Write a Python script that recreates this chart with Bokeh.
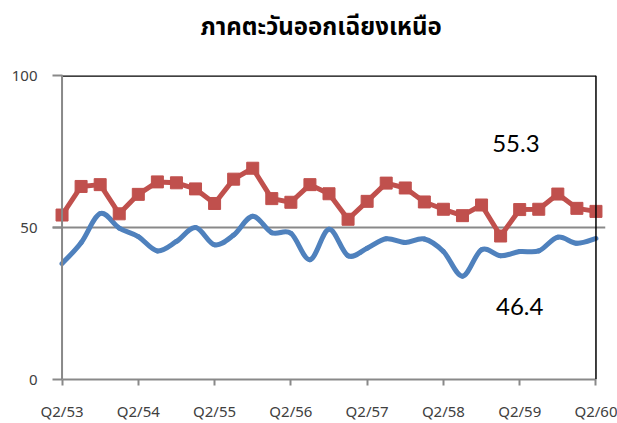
from bokeh.plotting import figure
from bokeh.models import FixedTicker, Range1d, Span, Title
from bokeh.core.properties import value
from bokeh.embed import file_html
from bokeh.resources import INLINE

title = "ภาคตะวันออกเฉียงเหนือ"
quarters = ["Q2/53", "Q3/53", "Q4/53", "Q1/54", "Q2/54", "Q3/54", "Q4/54", "Q1/55",
            "Q2/55", "Q3/55", "Q4/55", "Q1/56", "Q2/56", "Q3/56", "Q4/56", "Q1/57",
            "Q2/57", "Q3/57", "Q4/57", "Q1/58", "Q2/58", "Q3/58", "Q4/58", "Q1/59",
            "Q2/59", "Q3/59", "Q4/59", "Q1/60", "Q2/60"]
red_values = [54.1, 63.5, 64.1, 54.5, 60.9, 65.0, 64.7, 62.7, 57.9, 65.9, 69.5, 59.5, 58.3,
              64.1, 61.1, 52.7, 58.6, 64.6, 63.0, 58.4, 56.0, 53.9, 57.4, 47.2, 55.9, 56.0,
              61.0, 56.3, 55.3]
blue_values = [38.1, 45.0, 54.6, 49.8, 47.0, 42.3, 45.4, 50.0, 44.3, 47.5, 53.7, 48.3, 48.1,
               39.4, 49.4, 40.7, 43.2, 46.3, 45.1, 46.2, 42.1, 34.0, 42.7, 40.7, 42.1, 42.3,
               46.8, 44.8, 46.4]
y_ticks = [0, 50, 100]

RED = "#C0504D"
BLUE = "#4F81BD"
AXIS_GRAY = "#898989"

n = len(quarters)
xs = list(range(n))
x_last = n - 1

p = figure(width=617, height=423, x_range=Range1d(-0.5, x_last + 0.5),
           y_range=Range1d(0, 100), output_backend="svg", toolbar_location=None,
           min_border_left=52, min_border_right=12, min_border_top=74, min_border_bottom=42)

# spacer panel between the title and the plot area
p.add_layout(Title(text=" ", text_font_size="2px", standoff=15), "above")

p.title.text = title
p.title.align = "left"
p.title.vertical_align = "top"
p.title.text_font = "'Noto Sans Thai', 'Noto Sans', sans-serif"
p.title.text_font_size = "24px"
p.title.text_font_style = "bold"
p.title.text_color = "black"
p.title.offset = 148
p.title.standoff = 18

p.outline_line_color = None
p.background_fill_color = "white"
p.border_fill_color = "white"

# grid: only at 50
p.xgrid.visible = False
p.ygrid.ticker = FixedTicker(ticks=[50])
p.ygrid.grid_line_color = AXIS_GRAY
p.ygrid.grid_line_width = 2

# y axis (line drawn at x=0 by a span)
p.yaxis.ticker = FixedTicker(ticks=y_ticks)
p.yaxis.axis_line_color = None
p.yaxis.major_tick_line_color = AXIS_GRAY
p.yaxis.major_tick_line_width = 2
p.yaxis.major_tick_out = 0
p.yaxis.major_tick_in = 10
p.yaxis.minor_tick_line_color = None
p.yaxis.major_label_standoff = 15
p.yaxis.major_label_text_font = "Noto Sans"
p.yaxis.major_label_text_font_size = "15px"
p.yaxis.major_label_text_color = "#404040"
p.add_layout(Span(location=0, dimension="height", line_color=AXIS_GRAY, line_width=2))

# x axis
p.xaxis.ticker = FixedTicker(ticks=list(range(0, n, 4)))
p.xaxis.major_label_overrides = {i: quarters[i] for i in range(0, n, 4)}
p.xaxis.bounds = (0, x_last)
p.xaxis.axis_line_color = AXIS_GRAY
p.xaxis.axis_line_width = 2
p.xaxis.major_tick_line_color = AXIS_GRAY
p.xaxis.major_tick_line_width = 2
p.xaxis.major_tick_out = 6
p.xaxis.major_tick_in = 0
p.xaxis.minor_tick_line_color = None
p.xaxis.major_label_standoff = 15
p.xaxis.major_label_text_font = "Noto Sans"
p.xaxis.major_label_text_font_size = "15px"
p.xaxis.major_label_text_color = "#404040"

# top and right borders of plot area
p.segment(x0=[0], y0=[100], x1=[x_last], y1=[100], line_color="black", line_width=2.5)
p.add_layout(Span(location=x_last, dimension="height", line_color="black", line_width=1.5))

# smooth blue curve (Catmull-Rom style bezier, like a smoothed line)
bx0, by0, bx1, by1, cx0, cy0, cx1, cy1 = [], [], [], [], [], [], [], []
for i in range(n - 1):
    xm1, ym1 = (xs[i - 1], blue_values[i - 1]) if i > 0 else (xs[i], blue_values[i])
    xp2, yp2 = (xs[i + 2], blue_values[i + 2]) if i + 2 < n else (xs[i + 1], blue_values[i + 1])
    bx0.append(xs[i]); by0.append(blue_values[i])
    bx1.append(xs[i + 1]); by1.append(blue_values[i + 1])
    cx0.append(xs[i] + (xs[i + 1] - xm1) / 6); cy0.append(blue_values[i] + (blue_values[i + 1] - ym1) / 6)
    cx1.append(xs[i + 1] - (xp2 - xs[i]) / 6); cy1.append(blue_values[i + 1] - (yp2 - blue_values[i]) / 6)
p.bezier(x0=bx0, y0=by0, x1=bx1, y1=by1, cx0=cx0, cy0=cy0, cx1=cx1, cy1=cy1,
         line_color=BLUE, line_width=5, line_cap="round")

# red line with square markers
p.line(xs, red_values, line_color=RED, line_width=5, line_join="round")
p.scatter(xs, red_values, marker="square", size=12, fill_color=RED, line_color=RED)

# end value labels
p.text(x=[23.8], y=[77.5], text=[f"{red_values[-1]:.1f}"], text_font=value("Lato"),
       text_font_size="24px", text_align="center", text_baseline="middle", text_color="black")
p.text(x=[24.0], y=[24.1], text=[f"{blue_values[-1]:.1f}"], text_font=value("Lato"),
       text_font_size="24px", text_align="center", text_baseline="middle", text_color="black")

open("out.html", "w").write(file_html(p, INLINE))
